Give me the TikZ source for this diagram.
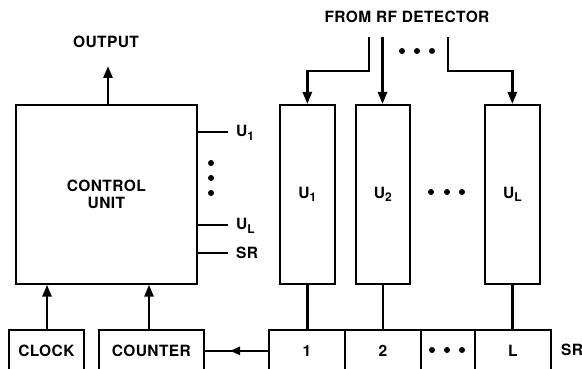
\documentclass[tikz,border=0pt]{standalone}
\usepackage{fontspec}
\setmainfont{TeX Gyre Heros}
\newfontfamily\labfont[LetterSpace=2.5]{TeX Gyre Heros}
\usetikzlibrary{arrows.meta,calc}
\newcommand\mysub[1]{\raisebox{-0.45ex}{\fontsize{12}{12}\selectfont #1}}
\begin{document}
\begin{tikzpicture}[x=1pt,y=-1pt,
  box/.style={draw, line width=1.7pt, inner sep=0pt, anchor=north west, font=\labfont\bfseries\fontsize{15.5}{17.5}\selectfont, align=center},
  wire/.style={line width=2.6pt},
  arr/.style={wire, -{Triangle[length=12pt,width=9pt]}},
  smallarr/.style={wire, -{Triangle[length=10pt,width=8pt]}},
  lbl/.style={font=\labfont\bfseries\fontsize{15.5}{17.5}\selectfont, inner sep=0pt},
  bigdot/.style={circle, fill, inner sep=0pt, minimum size=6pt}]
\useasboundingbox (0,0) rectangle (582,369);
\clip (0,0) rectangle (582,369);
\fill[white] (0,0) rectangle (582,369);

% control unit
\node[box, minimum width=181pt, minimum height=179pt] (cu) at (15,104) {CONTROL\\UNIT};
\node[lbl] (out) at (106,42) {OUTPUT};
\coordinate (otip) at (108,66);
\draw[arr] (cu.north -| otip) -- (otip);

% side ticks
\node[lbl, anchor=west] (lu1) at (236,133) {U\mysub{1}};
\node[lbl, anchor=west] (lul) at (236,226) {U\mysub{L}};
\node[lbl, anchor=west] (lsr) at (236,253) {SR};
\draw[wire] (cu.east |- 0,132) -- (228,132);
\draw[wire] (cu.east |- 0,225) -- (228,225);
\draw[wire] (cu.east |- 0,253) -- (228,253);
\node[bigdot] (d1) at (211,163) {};
\node[bigdot] (d2) at (211,178) {};
\node[bigdot] (d3) at (211,193) {};

% U boxes
\node[box, minimum width=55pt, minimum height=179pt] (u1) at (279,104) {U\mysub{1}};
\node[box, minimum width=54pt, minimum height=179pt] (u2) at (355,104) {U\mysub{2}};
\node[box, minimum width=55pt, minimum height=179pt] (ul) at (484,104) {U\mysub{L}};
\node[bigdot] (m1) at (431,192) {};
\node[bigdot] (m2) at (447,192) {};
\node[bigdot] (m3) at (462,192) {};

% inputs
\node[lbl] (rf) at (407,17) {FROM RF DETECTOR};
\coordinate (in1) at (369,37);
\coordinate (in2) at (382.5,37);
\coordinate (inl) at (448,37);
\draw[arr] (in1) -- ++(0,34) -| (u1.north);
\draw[arr] (in2) -- (in2 |- u2.north);
\draw[arr] (inl) -- ++(0,34) -| (ul.north);
\node[bigdot] (t1) at (402,51) {};
\node[bigdot] (t2) at (417,51) {};
\node[bigdot] (t3) at (432,51) {};

% shift register
\node[box, minimum width=76pt, minimum height=42pt] (c1) at (268,329) {1};
\node[box, minimum width=76pt, minimum height=42pt] (c2) at (344,329) {2};
\node[box, minimum width=54pt, minimum height=42pt] (c3) at (420,329) {};
\node[box, minimum width=76pt, minimum height=42pt] (c4) at (474,329) {L};
\node[bigdot] (s1) at (432,350) {};
\node[bigdot] (s2) at (447,350) {};
\node[bigdot] (s3) at (462,350) {};
\node[lbl] (srl) at (572,350) {SR};

\draw[wire] (u1.south) -- (u1.south |- c1.north);
\draw[wire] (u2.south) -- (u2.south |- c2.north);
\draw[wire] (ul.south) -- (ul.south |- c4.north);

% clock and counter
\node[box, minimum width=75pt, minimum height=42pt] (clk) at (8,329) {CLOCK};
\node[box, minimum width=105pt, minimum height=42pt] (cnt) at (98,329) {COUNTER};
\draw[arr] (clk.north -| 47,0) -- (cu.south -| 47,0);
\draw[arr] (cnt.north -| 149,0) -- (cu.south -| 149,0);
\draw[wire] (c1.west) -- (cnt.east);
\draw[smallarr] (c1.west) -- ($(c1.west)+(-38,0)$);
\end{tikzpicture}
\end{document}
